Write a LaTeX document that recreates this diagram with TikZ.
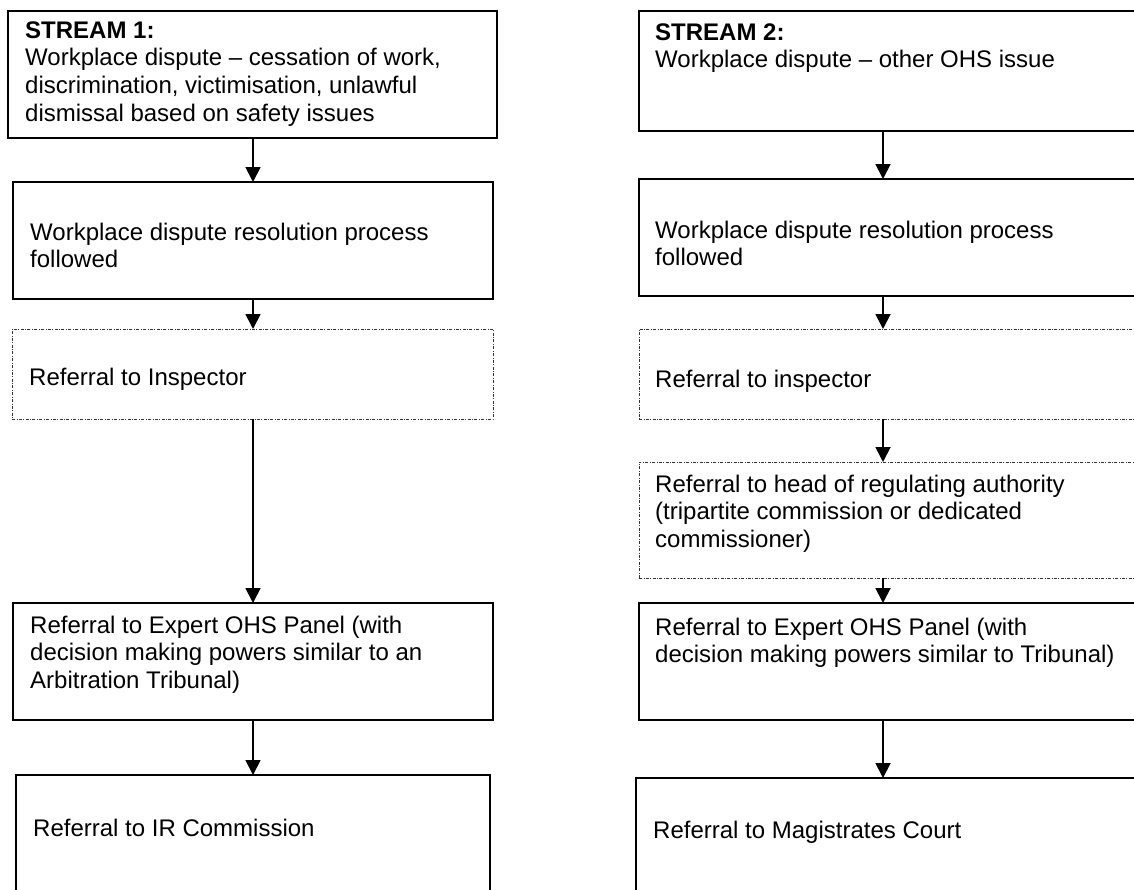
\documentclass[tikz,border=0pt]{standalone}
\usepackage{fontspec}
\setmainfont{Liberation Sans}
\usetikzlibrary{arrows.meta,positioning}

\begin{document}
\begin{tikzpicture}[x=1pt, y=-1pt,
  box/.style={draw=black, line width=1.8pt, inner sep=0pt, outer sep=0pt},
  dotbox/.style={draw=black!80, line width=0.9pt, dash pattern=on 3pt off 1.5pt on 0.8pt off 1.5pt, inner sep=0pt, outer sep=0pt},
  txt/.style={anchor=north west, align=left, inner sep=0pt, font=\fontsize{24}{27.6}\selectfont},
  flow/.style={-{Triangle[length=15pt, width=15pt]}, line width=1.8pt},
]
\useasboundingbox (0,0) rectangle (1134,889);
\clip (0,0) rectangle (1134,889);

% stream 1
\node[box, minimum width=489pt, minimum height=127pt] (l1) at (252.5,74.5) {};
\node[box, minimum width=480pt, minimum height=117pt] (l2) at (253,240.5) {};
\node[dotbox, minimum width=481pt, minimum height=90pt] (l3) at (252.5,374) {};
\node[box, minimum width=480pt, minimum height=117pt] (l4) at (253,661.5) {};
\node[box, minimum width=474pt, minimum height=160pt] (l5) at (253,855) {};

\node[txt] (l1t) at (25,18.7) {\strut\textbf{STREAM 1:}\\Workplace dispute – cessation of work,\\discrimination, victimisation, unlawful\\dismissal based on safety issues};
\node[txt] (l2t) at (30,220.7) {\strut Workplace dispute resolution process\\followed};
\node[txt] (l3t) at (29,365.7) {\strut Referral to Inspector};
\node[txt] (l4t) at (30,613.7) {\strut Referral to Expert OHS Panel (with\\decision making powers similar to an\\Arbitration Tribunal)};
\node[txt] (l5t) at (33,816.7) {\strut Referral to IR Commission};

% stream 2
\node[box, minimum width=511pt, minimum height=120pt] (r1) at (894.5,71) {};
\node[box, minimum width=511pt, minimum height=117pt] (r2) at (894.5,237.5) {};
\node[dotbox, minimum width=511pt, minimum height=90pt] (r3) at (894.5,374) {};
\node[dotbox, minimum width=511pt, minimum height=116pt] (r4) at (894.5,520) {};
\node[box, minimum width=511pt, minimum height=117pt] (r5) at (894.5,661.5) {};
\node[box, minimum width=514pt, minimum height=160pt] (r6) at (893,858) {};

\node[txt] (r1t) at (655,20.7) {\strut\textbf{STREAM 2:}\\Workplace dispute – other OHS issue};
\node[txt] (r2t) at (655,218.7) {\strut Workplace dispute resolution process\\followed};
\node[txt] (r3t) at (655,367.7) {\strut Referral to inspector};
\node[txt] (r4t) at (655,472.7) {\strut Referral to head of regulating authority\\(tripartite commission or dedicated\\commissioner)};
\node[txt] (r5t) at (655,615.7) {\strut Referral to Expert OHS Panel (with\\decision making powers similar to Tribunal)};
\node[txt] (r6t) at (653,818.7) {\strut Referral to Magistrates Court};

% arrow columns
\coordinate (lx) at (253,0);
\coordinate (rx) at (883,0);
\foreach \a/\b in {l1/l2,l2/l3,l3/l4,l4/l5}
  \draw[flow] (\a.south -| lx) -- (\b.north -| lx);
\foreach \a/\b in {r1/r2,r2/r3,r3/r4,r4/r5,r5/r6}
  \draw[flow] (\a.south -| rx) -- (\b.north -| rx);
\end{tikzpicture}
\end{document}
